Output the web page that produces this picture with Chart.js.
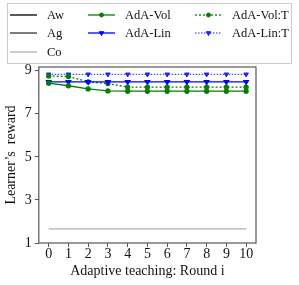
<!DOCTYPE html>
<html>
<head>
<meta charset="utf-8">
<script src="https://cdn.jsdelivr.net/npm/chart.js@4/dist/chart.umd.min.js"></script>
<style>
  html, body { margin: 0; padding: 0; background: #fff; }
  #wrap { width: 299px; height: 285px; }
</style>
</head>
<body>
<div id="wrap"><canvas id="c" width="299" height="285"></canvas></div>
<script>
// rounds of adaptive teaching
const rounds = ["0", "1", "2", "3", "4", "5", "6", "7", "8", "9", "10"];

// learner's reward per round
const aw = [];
const ag = [];
const co = [1.66, 1.66, 1.66, 1.66, 1.66, 1.66, 1.66, 1.66, 1.66, 1.66, 1.66];
const adaVol = [8.42, 8.30, 8.15, 8.06, 8.05, 8.05, 8.05, 8.05, 8.05, 8.05, 8.05];
const adaLin = [8.48, 8.48, 8.48, 8.48, 8.48, 8.48, 8.48, 8.48, 8.48, 8.48, 8.48];
const adaVolT = [8.75, 8.73, 8.48, 8.40, 8.24, 8.24, 8.24, 8.24, 8.24, 8.24, 8.24];
const adaLinT = [8.83, 8.83, 8.83, 8.83, 8.83, 8.83, 8.83, 8.83, 8.83, 8.83, 8.83];
// small spread shown on the AdA-Vol curves
const adaVolErr = [0, 0, 0, 0, 0.12, 0.12, 0.12, 0.12, 0.12, 0.12, 0.12];
const adaVolTErr = [0, 0, 0, 0, 0.12, 0.12, 0.12, 0.12, 0.12, 0.12, 0.12];

const yTicks = [1, 3, 5, 7, 9];
const FONT = "'Liberation Serif', 'DejaVu Serif', serif";

// legend order: column by column, three rows
const legendOrder = ["Aw", "Ag", "Co", "AdA-Vol", "AdA-Lin", null, "AdA-Vol:T", "AdA-Lin:T"];

function series(label, data, color, extra) {
  return Object.assign({
    label: label,
    data: data,
    borderColor: color,
    backgroundColor: color,
    borderWidth: 1.3,
    pointRadius: 0,
    fill: false,
    tension: 0
  }, extra || {});
}

const datasets = [
  series("Co", co, "#b0b0b0", { borderWidth: 1.3 }),
  series("Aw", aw, "#000000"),
  series("Ag", ag, "#333333"),
  series("AdA-Vol", adaVol, "#008000", { pointRadius: 2, pointStyle: "circle", errors: adaVolErr }),
  series("AdA-Lin", adaLin, "#0000ff", { pointRadius: 2.6, pointStyle: "triangle", pointRotation: 180 }),
  series("AdA-Vol:T", adaVolT, "#008000", { borderDash: [2, 2], pointRadius: 2, pointStyle: "circle", errors: adaVolTErr }),
  series("AdA-Lin:T", adaLinT, "#2020ff", { borderDash: [1.5, 1.5], borderWidth: 1, pointRadius: 2.6, pointStyle: "triangle", pointRotation: 180 })
];

// error bars + frame + boxed legend
const decorations = {
  id: "decorations",
  afterDatasetsDraw(chart) {
    const ctx = chart.ctx, xs = chart.scales.x, ys = chart.scales.y;
    ctx.save();
    chart.data.datasets.forEach(ds => {
      if (!ds.errors) return;
      ctx.strokeStyle = ds.borderColor;
      ctx.lineWidth = 1.2;
      ds.errors.forEach((e, i) => {
        if (!e) return;
        const x = xs.getPixelForValue(i);
        ctx.beginPath();
        ctx.moveTo(x, ys.getPixelForValue(ds.data[i] - e));
        ctx.lineTo(x, ys.getPixelForValue(ds.data[i] + e));
        ctx.stroke();
      });
    });
    ctx.restore();
  },
  afterDraw(chart) {
    const ctx = chart.ctx, a = chart.chartArea;
    ctx.save();
    ctx.strokeStyle = "#555";
    ctx.lineWidth = 1.2;
    ctx.strokeRect(a.left, a.top, a.right - a.left, a.bottom - a.top);

    // legend box
    ctx.strokeStyle = "#cccccc";
    ctx.lineWidth = 1;
    ctx.strokeRect(7.5, 3.5, 284, 60);
    const colX = [10, 88, 195];
    const rowY = [15, 33, 52];
    ctx.font = "12.5px " + FONT;
    ctx.textBaseline = "middle";
    legendOrder.forEach((name, k) => {
      if (!name) return;
      const ds = chart.data.datasets.find(d => d.label === name);
      const x0 = colX[Math.floor(k / 3)], y = rowY[k % 3];
      ctx.strokeStyle = ds.borderColor;
      ctx.lineWidth = ds.borderWidth;
      ctx.setLineDash(ds.borderDash || []);
      ctx.beginPath();
      ctx.moveTo(x0, y);
      ctx.lineTo(x0 + 27, y);
      ctx.stroke();
      ctx.setLineDash([]);
      if (ds.pointRadius) {
        ctx.fillStyle = ds.backgroundColor;
        ctx.lineWidth = 1;
        Chart.helpers.drawPoint(ctx, {
          pointStyle: ds.pointStyle,
          rotation: ds.pointRotation || 0,
          radius: ds.pointRadius,
          borderWidth: 1
        }, x0 + 13.5, y);
      }
      ctx.fillStyle = "#111";
      ctx.fillText(name, x0 + 37, y + 0.5);
    });
    ctx.restore();
  }
};

new Chart(document.getElementById("c"), {
  type: "line",
  data: { labels: rounds, datasets: datasets },
  options: {
    responsive: false,
    animation: false,
    layout: { padding: { top: 67, right: 43, bottom: 7, left: 3 } },
    plugins: { legend: { display: false }, tooltip: { enabled: false } },
    elements: { point: { borderWidth: 1 } },
    scales: {
      x: {
        type: "category",
        offset: true,
        border: { display: false },
        grid: { display: true, offset: false, drawOnChartArea: false, drawTicks: true, tickLength: 4, color: "#555" },
        ticks: { color: "#111", padding: 0, font: { family: FONT, size: 14, lineHeight: 1 }, maxRotation: 0, autoSkip: false },
        title: { display: true, text: "Adaptive teaching: Round i", color: "#111", padding: { top: 3, bottom: 0 }, font: { family: FONT, size: 14, lineHeight: 1 } }
      },
      y: {
        min: 1,
        max: 9.17,
        border: { display: false },
        afterBuildTicks(scale) { scale.ticks = yTicks.map(v => ({ value: v })); },
        grid: { display: true, drawOnChartArea: false, drawTicks: true, tickLength: 4, color: "#555" },
        ticks: { color: "#111", padding: 3, font: { family: FONT, size: 14 } },
        title: { display: true, text: "Learner\u2019s  reward", color: "#111", padding: { top: 0, bottom: 2 }, font: { family: FONT, size: 14 } }
      }
    }
  },
  plugins: [decorations]
});
</script>
</body>
</html>
